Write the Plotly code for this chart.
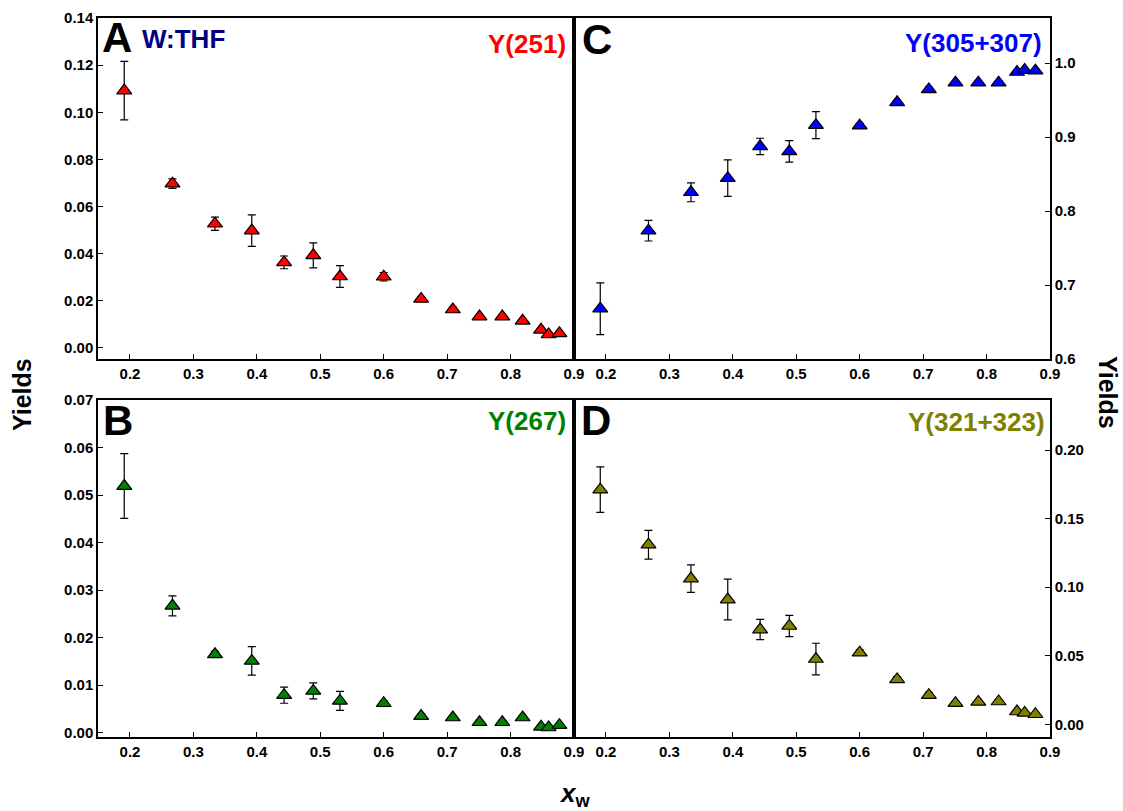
import plotly.graph_objects as go

# ---------------- data ----------------
x_w = [0.191, 0.267, 0.334, 0.392, 0.443, 0.489, 0.531, 0.600,
       0.659, 0.709, 0.751, 0.787, 0.819, 0.848, 0.860, 0.877]

y251 = [0.1092, 0.0697, 0.0527, 0.0498, 0.0363, 0.0393, 0.0303, 0.0302,
        0.0208, 0.0163, 0.0133, 0.0133, 0.0115, 0.0077, 0.0057, 0.0062]
e251 = [0.0124, 0.0020, 0.0028, 0.0067, 0.0027, 0.0053, 0.0046, 0.0018,
        0.0010, 0.0010, 0.0008, 0.0008, 0.0008, 0.0006, 0.0006, 0.0006]

y305 = [0.668, 0.7735, 0.8254, 0.8445, 0.8874, 0.8807, 0.9162, 0.9155,
        0.947, 0.9645, 0.9735, 0.9735, 0.9735, 0.988, 0.9906, 0.9897]
e305 = [0.035, 0.014, 0.0128, 0.0247, 0.011, 0.0146, 0.0182, 0.003,
        0.003, 0.003, 0.002, 0.002, 0.002, 0.002, 0.002, 0.002]

y267 = [0.0519, 0.0267, 0.0165, 0.0151, 0.0079, 0.0088, 0.0067, 0.0062,
        0.0035, 0.0032, 0.0022, 0.0022, 0.0032, 0.00125, 0.0011, 0.0016]
e267 = [0.0068, 0.0021, 0.0006, 0.0030, 0.0017, 0.0017, 0.0020, 0.0005,
        0.0005, 0.0004, 0.0004, 0.0004, 0.0004, 0.0003, 0.0003, 0.0003]

y321 = [0.1712, 0.131, 0.1063, 0.091, 0.0691, 0.0717, 0.0476, 0.0522,
        0.0327, 0.0212, 0.0154, 0.0163, 0.0166, 0.0093, 0.0083, 0.0073]
e321 = [0.0166, 0.0105, 0.0100, 0.0149, 0.0074, 0.0078, 0.0115, 0.002,
        0.002, 0.002, 0.001, 0.001, 0.001, 0.001, 0.001, 0.001]

x_ticks = [0.2, 0.3, 0.4, 0.5, 0.6, 0.7, 0.8, 0.9]
yA_ticks = [0.00, 0.02, 0.04, 0.06, 0.08, 0.10, 0.12, 0.14]
yC_ticks = [0.6, 0.7, 0.8, 0.9, 1.0]
yB_ticks = [0.00, 0.01, 0.02, 0.03, 0.04, 0.05, 0.06, 0.07]
yD_ticks = [0.00, 0.05, 0.10, 0.15, 0.20]

# ---------------- layout helpers ----------------
W, H = 1123, 811
FONT = "Liberation Sans, Arial, Helvetica, sans-serif"


def px(xp):
    return xp / W


def py(yp):
    return 1 - yp / H


xL = [px(98), px(574)]
xR = [px(574), px(1050)]
yT = [py(359), py(18)]
yBt = [py(737), py(400)]

fig = go.Figure()


def add_series(y, e, color, xa, ya):
    fig.add_trace(go.Scatter(
        x=x_w, y=y, mode="markers", xaxis=xa, yaxis=ya,
        marker=dict(symbol="triangle-up", size=13, color=color,
                    line=dict(color="black", width=1.2)),
        error_y=dict(type="data", array=e, visible=True, color="black",
                     thickness=1.2, width=4),
        showlegend=False, hoverinfo="x+y"))


add_series(y251, e251, "#FF0000", "x", "y")
add_series(y305, e305, "#0000FF", "x2", "y2")
add_series(y267, e267, "#008000", "x3", "y3")
add_series(y321, e321, "#808000", "x4", "y4")

axis_common = dict(showline=True, linecolor="black", linewidth=1.5, mirror=True,
                   ticks="inside", ticklen=5, tickwidth=1.2, tickcolor="black",
                   showgrid=False, zeroline=False, automargin=False,
                   tickfont=dict(family=FONT, size=15, color="black", weight="bold"))

xr = [0.1496, 0.9]
fig.update_layout(
    width=W, height=H,
    margin=dict(l=0, r=0, t=0, b=0, autoexpand=False),
    paper_bgcolor="white", plot_bgcolor="white",
    showlegend=False,
    xaxis=dict(domain=xL, range=xr, anchor="y", tickvals=x_ticks, tickformat=".1f", **axis_common),
    yaxis=dict(domain=yT, range=[-0.0047, 0.14], anchor="x", tickvals=yA_ticks, tickformat=".2f", **axis_common),
    xaxis2=dict(domain=xR, range=xr, anchor="y2", tickvals=x_ticks, tickformat=".1f", **axis_common),
    yaxis2=dict(domain=yT, range=[0.6, 1.061], anchor="x2", side="right", tickvals=yC_ticks, tickformat=".1f", **axis_common),
    xaxis3=dict(domain=xL, range=xr, anchor="y3", tickvals=x_ticks, tickformat=".1f", **axis_common),
    yaxis3=dict(domain=yBt, range=[-0.0009, 0.07], anchor="x3", tickvals=yB_ticks, tickformat=".2f", **axis_common),
    xaxis4=dict(domain=xR, range=xr, anchor="y4", tickvals=x_ticks, tickformat=".1f", **axis_common),
    yaxis4=dict(domain=yBt, range=[-0.0093, 0.2366], anchor="x4", side="right", tickvals=yD_ticks, tickformat=".2f", **axis_common),
)


def label(text, x, y, size, color="black", xanchor="left", yanchor="middle", angle=0):
    fig.add_annotation(text=text, x=px(x), y=py(y), xref="paper", yref="paper",
                       xanchor=xanchor, yanchor=yanchor, showarrow=False, textangle=angle,
                       borderpad=0, font=dict(family=FONT, size=size, color=color))


# panel letters
label("<b>A</b>", 101, 38, 42)
label("<b>C</b>", 581, 40, 42)
label("<b>B</b>", 102, 420, 42)
label("<b>D</b>", 580, 420, 42)

label("<b>W:THF</b>", 141, 39, 26, color="#000080")

label("<b>Y(251)</b>", 567, 44, 26, color="#FF0000", xanchor="right")
label("<b>Y(305+307)</b>", 1043, 43, 26, color="#0000FF", xanchor="right")
label("<b>Y(267)</b>", 567, 421, 26, color="#008000", xanchor="right")
label("<b>Y(321+323)</b>", 1046, 422, 26, color="#808000", xanchor="right")

# axis titles
label("<b>Yields</b>", 22, 395, 25, xanchor="center", angle=-90)
label("<b>Yields</b>", 1108, 392, 25, xanchor="center", angle=90)
label("<b><i>x</i></b><sub><b>w</b></sub>", 574, 794, 26, xanchor="center")

fig.write_html("out.html",
               config={"displayModeBar": False},
               post_script="document.body.style.margin='0';document.body.style.overflow='hidden';")
